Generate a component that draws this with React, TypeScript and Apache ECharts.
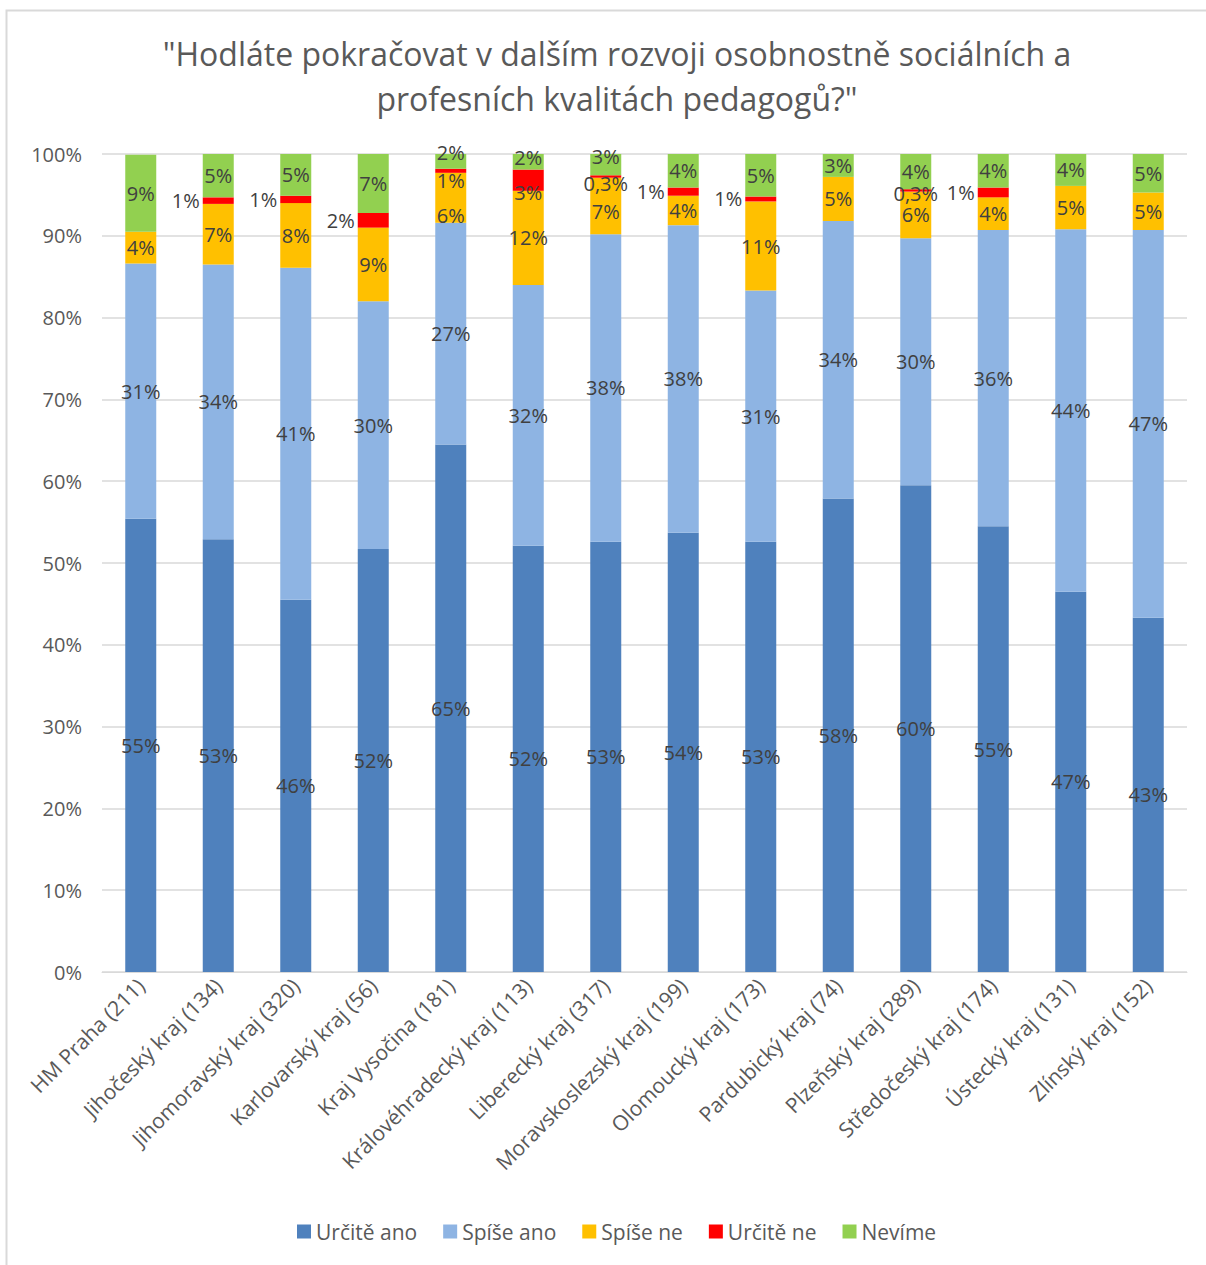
import React, { useEffect, useRef } from "react";
import * as echarts from "echarts";

const categories = [
  "HM Praha (211)",
  "Jihočeský kraj (134)",
  "Jihomoravský kraj (320)",
  "Karlovarský kraj (56)",
  "Kraj Vysočina (181)",
  "Královéhradecký kraj (113)",
  "Liberecký kraj (317)",
  "Moravskoslezský kraj (199)",
  "Olomoucký kraj (173)",
  "Pardubický kraj (74)",
  "Plzeňský kraj (289)",
  "Středočeský kraj (174)",
  "Ústecký kraj (131)",
  "Zlínský kraj (152)",
];

const urciteAno = [55.4, 52.9, 45.5, 51.7, 64.5, 52.1, 52.6, 53.7, 52.6, 57.9, 59.5, 54.5, 46.5, 43.3];
const spiseAno = [31.2, 33.6, 40.6, 30.3, 27.1, 31.9, 37.6, 37.6, 30.7, 33.9, 30.2, 36.2, 44.3, 47.4];
const spiseNe = [3.9, 7.4, 7.9, 9.0, 6.1, 11.5, 6.9, 3.6, 10.9, 5.4, 5.7, 4.0, 5.3, 4.6];
const urciteNe = [0, 0.8, 0.9, 1.8, 0.5, 2.6, 0.3, 1.0, 0.6, 0, 0.3, 1.2, 0, 0];
const nevime = [9.4, 5.3, 5.1, 7.2, 1.8, 1.9, 2.6, 4.1, 5.2, 2.8, 4.3, 4.1, 3.9, 4.7];

// which "Určitě ne" labels sit left of the bar
const redLabelLeft = [false, true, true, true, false, false, false, true, true, false, false, true, false, false];

// vertical nudges of crowded labels (px), by category index
const orangeNudge: Record<number, number> = { 4: 18, 6: 6 };
const redNudge: Record<number, number> = { 4: 10, 5: 12, 6: 7, 10: 3 };
const greenNudge: Record<number, number> = { 4: -9, 5: -4, 6: -8 };

const FONT = "'Open Sans', 'Noto Sans', sans-serif";
const TXT = "#595959";
const LBL = "#404040";

function fmt(v: number): string {
  if (!v) return "";
  if (v < 0.5) return v.toFixed(1).replace(".", ",") + "%";
  return Math.round(v) + "%";
}

export default function App() {
  const ref = useRef<HTMLDivElement>(null);

  useEffect(() => {
    document.body.style.margin = "0";
    if (!ref.current) return;
    const chart = echarts.init(ref.current, null, { renderer: "svg" });

    const labelBase = {
      show: true,
      position: "inside",
      color: LBL,
      fontSize: 20,
      fontFamily: FONT,
      formatter: (p: any) => fmt(p.value),
    };

    const mk = (name: string, data: number[], color: string, extra?: (i: number) => any) => ({
      name,
      type: "bar",
      stack: "total",
      barWidth: 31,
      itemStyle: { color },
      label: labelBase,
      data: data.map((v, i) => {
        const e = extra ? extra(i) : null;
        return e ? { value: v, label: e } : v;
      }),
    });

    const nudge = (m: Record<number, number>) => (i: number) =>
      m[i] !== undefined ? { offset: [0, m[i]] } : null;

    chart.setOption({
      animation: false,
      backgroundColor: "#ffffff",
      title: {
        text: "\"Hodláte pokračovat v dalším rozvoji osobnostně sociálních a\nprofesních kvalitách pedagogů?\"",
        left: 612,
        textAlign: "center",
        top: 26,
        textStyle: {
          color: TXT,
          fontSize: 32,
          fontWeight: "normal",
          fontFamily: FONT,
          lineHeight: 45,
        },
      },
      graphic: [
        {
          type: "rect",
          shape: { x: 6.5, y: 10.5, width: 1400, height: 1400 },
          style: { fill: "none", stroke: "#d9d9d9", lineWidth: 2 },
          silent: true,
        },
      ],
      legend: {
        bottom: 18,
        left: 292,
        itemWidth: 14,
        itemHeight: 14,
        itemGap: 26,
        icon: "rect",
        textStyle: { color: TXT, fontSize: 21, fontFamily: FONT },
        data: ["Určitě ano", "Spíše ano", "Spíše ne", "Určitě ne", "Nevíme"],
      },
      grid: { left: 102, right: 19, top: 154, bottom: 293, containLabel: false },
      xAxis: {
        type: "category",
        data: categories,
        axisLine: { lineStyle: { color: "#d9d9d9", width: 1 } },
        axisTick: { show: false },
        axisLabel: {
          rotate: 45,
          color: TXT,
          fontSize: 21,
          fontFamily: FONT,
          interval: 0,
          margin: 10,
        },
      },
      yAxis: {
        type: "value",
        min: 0,
        max: 100,
        interval: 10,
        axisLine: { show: false },
        axisTick: { show: false },
        splitLine: { lineStyle: { color: "#d9d9d9", width: 1.5 } },
        axisLabel: {
          color: TXT,
          fontSize: 20,
          fontFamily: FONT,
          margin: 20,
          formatter: (v: number) => v + "%",
        },
      },
      series: [
        mk("Určitě ano", urciteAno, "#4f81bd"),
        mk("Spíše ano", spiseAno, "#8eb4e3"),
        mk("Spíše ne", spiseNe, "#ffc000", nudge(orangeNudge)),
        mk("Určitě ne", urciteNe, "#ff0000", (i) =>
          redLabelLeft[i]
            ? { position: "left", distance: 3 }
            : redNudge[i] !== undefined
            ? { offset: [0, redNudge[i]] }
            : null
        ),
        mk("Nevíme", nevime, "#92d050", nudge(greenNudge)),
      ],
    });

    return () => chart.dispose();
  }, []);

  return <div ref={ref} style={{ width: 1206, height: 1265 }} />;
}
